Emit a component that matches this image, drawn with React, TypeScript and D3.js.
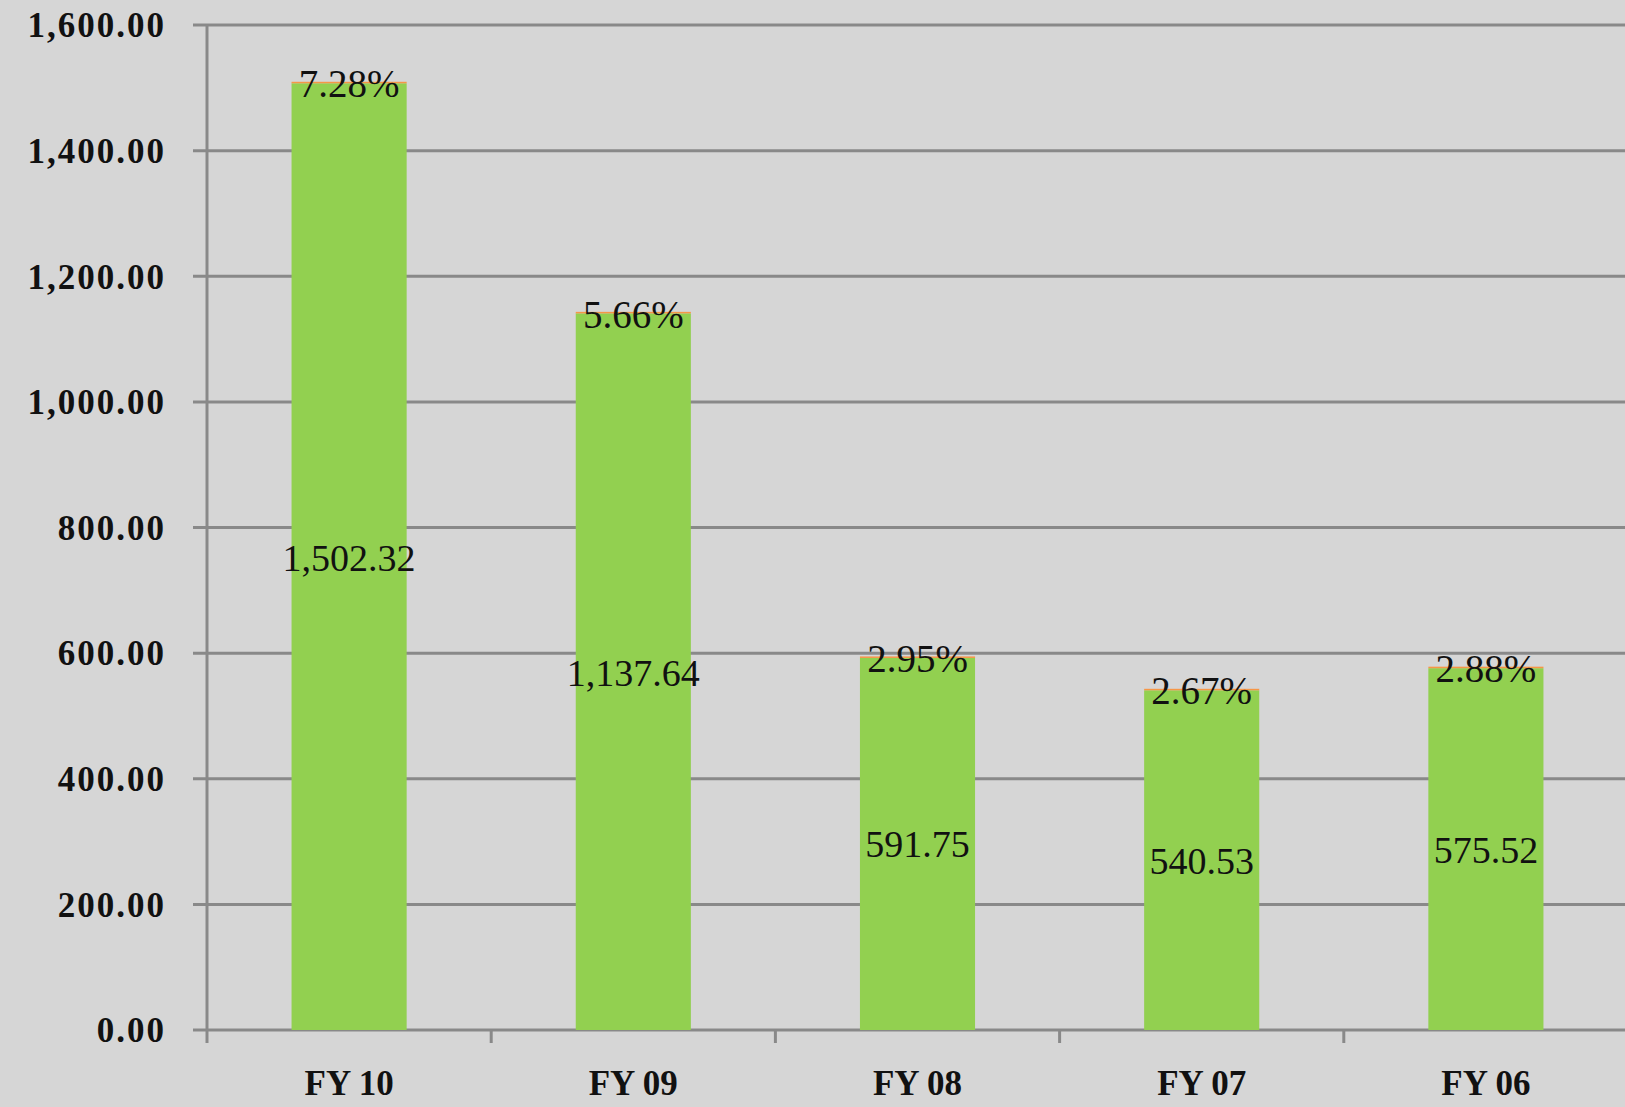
import { useEffect, useRef } from 'react';
import * as d3 from 'd3';

const categories = ['FY 10', 'FY 09', 'FY 08', 'FY 07', 'FY 06'];
const amounts = [1502.32, 1137.64, 591.75, 540.53, 575.52];
const growth = [7.28, 5.66, 2.95, 2.67, 2.88];
const yTicks = [0, 200, 400, 600, 800, 1000, 1200, 1400, 1600];

const W = 1625;
const H = 1107;

const App = () => {
  const svgRef = useRef<SVGSVGElement>(null);

  useEffect(() => {
    document.body.style.margin = '0';
    const svg = d3.select(svgRef.current);
    svg.selectAll('*').remove();

    const font = '"Liberation Serif", "DejaVu Serif", serif';

    const x = d3.scaleBand().domain(categories).range([207, 1628]).paddingInner(0.595).paddingOuter(0.2975);
    const y = d3.scaleLinear().domain([0, 1600]).range([1030, 25]);

    svg.append('rect').attr('width', W).attr('height', H).attr('fill', '#d6d6d6');

    // grid
    svg
      .append('g')
      .selectAll('line')
      .data(yTicks)
      .join('line')
      .attr('x1', 193)
      .attr('x2', W)
      .attr('y1', (d) => y(d))
      .attr('y2', (d) => y(d))
      .attr('stroke', '#898989')
      .attr('stroke-width', 3);

    // y axis line
    svg
      .append('line')
      .attr('x1', 207)
      .attr('x2', 207)
      .attr('y1', y(1600))
      .attr('y2', 1043)
      .attr('stroke', '#898989')
      .attr('stroke-width', 3);

    // category ticks
    const step = x.step();
    svg
      .append('g')
      .selectAll('line')
      .data(categories.slice(1))
      .join('line')
      .attr('x1', (d) => (x(d) as number) - (step - x.bandwidth()) / 2)
      .attr('x2', (d) => (x(d) as number) - (step - x.bandwidth()) / 2)
      .attr('y1', y(0))
      .attr('y2', 1043)
      .attr('stroke', '#898989')
      .attr('stroke-width', 3);

    // y labels
    svg
      .append('g')
      .selectAll('text')
      .data(yTicks)
      .join('text')
      .attr('x', 166)
      .attr('y', (d) => y(d))
      .attr('dy', '0.35em')
      .attr('text-anchor', 'end')
      .attr('font-family', font)
      .attr('font-weight', 'bold')
      .attr('font-size', 35)
      .attr('letter-spacing', 2)
      .attr('fill', '#111')
      .text((d) => d3.format(',.2f')(d));

    // x labels
    svg
      .append('g')
      .selectAll('text')
      .data(categories)
      .join('text')
      .attr('x', (d) => (x(d) as number) + x.bandwidth() / 2)
      .attr('y', 1083)
      .attr('dy', '0.35em')
      .attr('text-anchor', 'middle')
      .attr('font-family', font)
      .attr('font-weight', 'bold')
      .attr('font-size', 35)
      .attr('fill', '#111')
      .text((d) => d);

    const bars = svg.append('g');
    categories.forEach((c, i) => {
      const x0 = x(c) as number;
      const bw = x.bandwidth();
      const top = y(amounts[i] + growth[i]);
      bars
        .append('rect')
        .attr('x', x0)
        .attr('width', bw)
        .attr('y', top + 1.5)
        .attr('height', y(0) - top - 1.5)
        .attr('fill', '#92d050');
      // growth segment is only a hairline in the original
      bars
        .append('rect')
        .attr('x', x0)
        .attr('width', bw)
        .attr('y', top)
        .attr('height', 1.5)
        .attr('fill', '#f79646');

      bars
        .append('text')
        .attr('x', x0 + bw / 2)
        .attr('y', (y(0) + y(amounts[i])) / 2)
        .attr('dy', '0.35em')
        .attr('text-anchor', 'middle')
        .attr('font-family', font)
        .attr('font-size', 38)
        .attr('fill', '#111')
        .text(d3.format(',.2f')(amounts[i]));

      bars
        .append('text')
        .attr('x', x0 + bw / 2)
        .attr('y', top + 2)
        .attr('dy', '0.35em')
        .attr('text-anchor', 'middle')
        .attr('font-family', font)
        .attr('font-size', 39)
        .attr('fill', '#111')
        .text(`${growth[i].toFixed(2)}%`);
    });
  }, []);

  return <svg width={W} height={H} ref={svgRef} style={{ display: 'block' }} />;
};

export default App;
